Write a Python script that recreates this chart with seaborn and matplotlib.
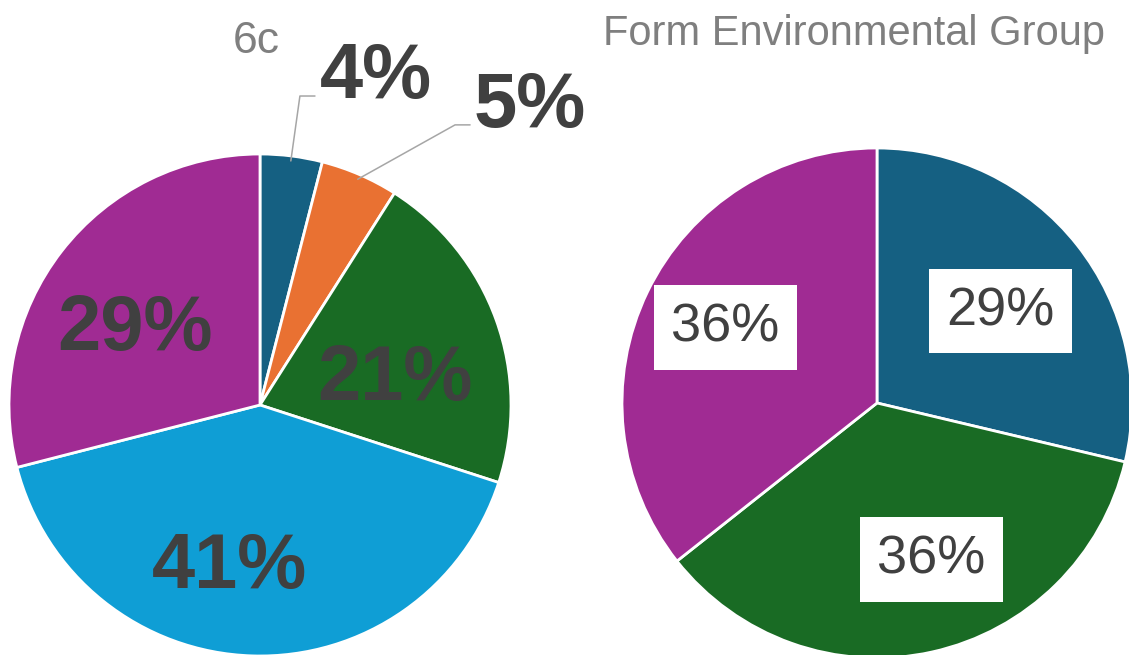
import numpy as np
import matplotlib
matplotlib.use("Agg")
import matplotlib.pyplot as plt
import seaborn as sns

# left pie: "6c"
left_title = "6c"
left_values = [4, 5, 21, 41, 29]
left_colors = ["#156082", "#E97132", "#196B24", "#0F9ED5", "#A02B93"]

# right pie: "Form Environmental Group"
right_title = "Form Environmental Group"
right_values = [29, 36, 36]
right_colors = ["#156082", "#196B24", "#A02B93"]

TEXT = "#404040"
GREY = "#7f7f7f"

sns.set_theme(style="white")
plt.rcParams['font.family'] = ['Liberation Sans', 'DejaVu Sans']

W, H = 1129, 655
fig = plt.figure(figsize=(W / 100, H / 100), dpi=100)


def box(cx, cy, r):
    # axes rect in figure fraction from pixel centre / radius
    return [(cx - r) / W, (H - cy - r) / H, 2 * r / W, 2 * r / H]


def pct(v, total):
    return f"{round(v / total * 100):.0f}%"


def setup(ax):
    ax.set_xlim(-1, 1)
    ax.set_ylim(-1, 1)
    ax.set_aspect("equal")
    ax.axis("off")


# ---- left pie ----
R1 = 251
ax1 = fig.add_axes(box(260, 405, R1))
wedges, _ = ax1.pie(left_values, colors=left_colors, startangle=90, counterclock=False,
                    wedgeprops=dict(edgecolor="white", linewidth=2))
setup(ax1)

total = sum(left_values)
big = 56
half_cap = 0.358 * big * 100 / 72 / R1   # lift to centre digits on the anchor
# slice index -> (radius, angle tweak in degrees)
inside = {2: (0.554, -6.1), 3: (0.629, -9.2), 4: (0.598, 4.2)}
for i, (r, tweak) in inside.items():
    w = wedges[i]
    a = np.deg2rad((w.theta1 + w.theta2) / 2 + tweak)
    ax1.text(r * np.cos(a), r * np.sin(a) - half_cap, pct(left_values[i], total),
             ha="center", va="baseline", fontsize=big, fontweight="bold", color=TEXT)

# small slices: labels outside with leader lines (elbow, line end, text anchor)
outside = {
    0: [(0.159, 1.231), (0.219, 1.231), (0.239, 1.223)],
    1: [(0.777, 1.116), (0.837, 1.116), (0.849, 1.108)],
}
for i, pts in outside.items():
    w = wedges[i]
    a = np.deg2rad((w.theta1 + w.theta2) / 2)
    xs = [0.98 * np.cos(a), pts[0][0], pts[1][0]]
    ys = [0.98 * np.sin(a), pts[0][1], pts[1][1]]
    ax1.plot(xs, ys, color="#a6a6a6", lw=1.1, clip_on=False)
    ax1.text(pts[2][0], pts[2][1], pct(left_values[i], total),
             ha="left", va="baseline", fontsize=big, fontweight="bold", color=TEXT,
             clip_on=False)

fig.text(256 / W, 1 - 53 / H, left_title, ha="center", va="baseline", fontsize=32, color=GREY)

# ---- right pie ----
R2 = 255
ax2 = fig.add_axes(box(877, 403, R2))
wedges2, _ = ax2.pie(right_values, colors=right_colors, startangle=90, counterclock=False,
                     wedgeprops=dict(edgecolor="white", linewidth=2))
setup(ax2)

total2 = sum(right_values)
small = 39
lift2 = 0.3 * small * 100 / 72 / R2
label2 = [(0.608, -0.9), (0.642, 7.0), (0.668, -1.4)]
for i, w in enumerate(wedges2):
    r, tweak = label2[i]
    a = np.deg2rad((w.theta1 + w.theta2) / 2 + tweak)
    ax2.text(r * np.cos(a), r * np.sin(a) - lift2, pct(right_values[i], total2),
             ha="center", va="baseline", fontsize=small, color=TEXT,
             bbox=dict(boxstyle="square,pad=0.32", facecolor="white", edgecolor="none"))

fig.text(1105 / W, 1 - 45 / H, right_title, ha="right", va="baseline", fontsize=30, color=GREY)

fig.savefig("out.png", dpi=100)
